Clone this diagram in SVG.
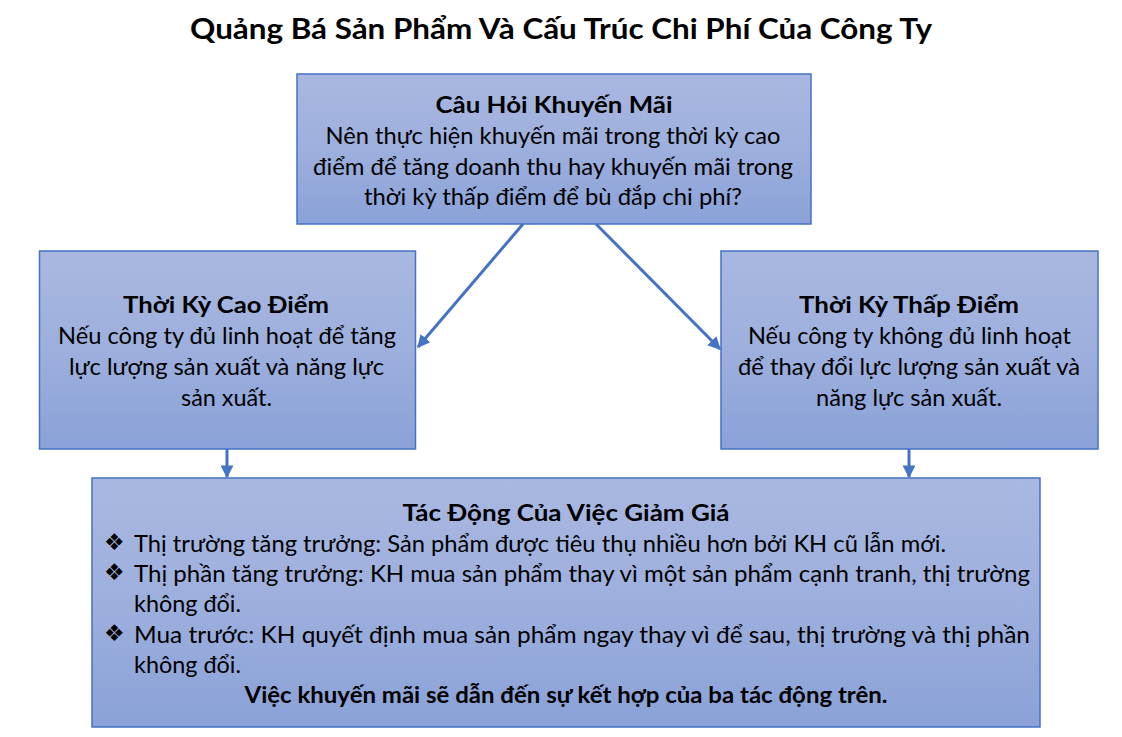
<svg xmlns="http://www.w3.org/2000/svg" width="1122" height="737" viewBox="0 0 1122 737">
  <defs>
    <linearGradient id="boxGrad" x1="0" y1="0" x2="0" y2="1">
      <stop offset="0" stop-color="#A9B8E1"/>
      <stop offset="0.5" stop-color="#9DAFDD"/>
      <stop offset="1" stop-color="#8AA2D8"/>
    </linearGradient>
    <marker id="arrow" viewBox="0 0 10 10" refX="9" refY="5" markerWidth="4.3" markerHeight="4.3" orient="auto">
      <path d="M0,0 L10,5 L0,10 z" fill="#4472C4"/>
    </marker>
    <style>
      .box { fill: url(#boxGrad); stroke: #4472C4; stroke-width: 1.5; }
      .title { font-family: Lato, "Liberation Sans", sans-serif; font-weight: bold; font-size: 28px; fill: #000; text-anchor: middle; }
      .head { font-family: Lato, "Liberation Sans", sans-serif; font-weight: bold; font-size: 23px; fill: #000; text-anchor: middle; }
      .body { font-family: Lato, "Liberation Sans", sans-serif; font-size: 23px; fill: #000; text-anchor: middle; }
      .left { font-family: Lato, "Liberation Sans", sans-serif; font-size: 23px; fill: #000; text-anchor: start; }
      .bullet { font-family: "DejaVu Sans", sans-serif; font-size: 23px; fill: #000; }
      .conn { stroke: #4472C4; stroke-width: 3; fill: none; marker-end: url(#arrow); }
    </style>
  </defs>
  <rect width="1122" height="737" fill="#FFFFFF"/>

  <text class="title" x="561" y="39" textLength="742" lengthAdjust="spacingAndGlyphs">Quảng Bá Sản Phẩm Và Cấu Trúc Chi Phí Của Công Ty</text>

  <g id="connectors">
    <line class="conn" x1="523" y1="224" x2="418" y2="347"/>
    <line class="conn" x1="596" y1="224" x2="720" y2="349"/>
    <line class="conn" x1="227" y1="449" x2="227" y2="477"/>
    <line class="conn" x1="909" y1="449" x2="909" y2="477"/>
  </g>

  <g id="node-question">
    <rect class="box" x="297" y="74" width="514" height="150"/>
    <text class="head" x="554" y="113" textLength="237" lengthAdjust="spacingAndGlyphs">Câu Hỏi Khuyến Mãi</text>
    <text class="body" x="553" y="144" textLength="455" lengthAdjust="spacingAndGlyphs">Nên thực hiện khuyến mãi trong thời kỳ cao</text>
    <text class="body" x="553" y="175" textLength="480" lengthAdjust="spacingAndGlyphs">điểm để tăng doanh thu hay khuyến mãi trong</text>
    <text class="body" x="553" y="205" textLength="378" lengthAdjust="spacingAndGlyphs">thời kỳ thấp điểm để bù đắp chi phí?</text>
  </g>

  <g id="node-peak">
    <rect class="box" x="39.5" y="251" width="376" height="198"/>
    <text class="head" x="226" y="313" textLength="206" lengthAdjust="spacingAndGlyphs">Thời Kỳ Cao Điểm</text>
    <text class="body" x="227" y="344" textLength="338" lengthAdjust="spacingAndGlyphs">Nếu công ty đủ linh hoạt để tăng</text>
    <text class="body" x="226.5" y="375" textLength="315" lengthAdjust="spacingAndGlyphs">lực lượng sản xuất và năng lực</text>
    <text class="body" x="226.5" y="406" textLength="91" lengthAdjust="spacingAndGlyphs">sản xuất.</text>
  </g>

  <g id="node-offpeak">
    <rect class="box" x="721" y="251" width="377" height="198"/>
    <text class="head" x="909" y="313" textLength="220" lengthAdjust="spacingAndGlyphs">Thời Kỳ Thấp Điểm</text>
    <text class="body" x="909.5" y="344" textLength="323" lengthAdjust="spacingAndGlyphs">Nếu công ty không đủ linh hoạt</text>
    <text class="body" x="909" y="375" textLength="342" lengthAdjust="spacingAndGlyphs">để thay đổi lực lượng sản xuất và</text>
    <text class="body" x="909" y="406" textLength="186" lengthAdjust="spacingAndGlyphs">năng lực sản xuất.</text>
  </g>

  <g id="node-impact">
    <rect class="box" x="92" y="478" width="948" height="249"/>
    <text class="head" x="566" y="521" textLength="327" lengthAdjust="spacingAndGlyphs">Tác Động Của Việc Giảm Giá</text>
    <text class="bullet" x="104" y="550">❖</text>
    <text class="left" x="134" y="552" textLength="812" lengthAdjust="spacingAndGlyphs">Thị trường tăng trưởng: Sản phẩm được tiêu thụ nhiều hơn bởi KH cũ lẫn mới.</text>
    <text class="bullet" x="104" y="580">❖</text>
    <text class="left" x="134" y="582" textLength="896" lengthAdjust="spacingAndGlyphs">Thị phần tăng trưởng: KH mua sản phẩm thay vì một sản phẩm cạnh tranh, thị trường</text>
    <text class="left" x="134" y="612" textLength="107" lengthAdjust="spacingAndGlyphs">không đổi.</text>
    <text class="bullet" x="104" y="641">❖</text>
    <text class="left" x="134" y="643" textLength="896" lengthAdjust="spacingAndGlyphs">Mua trước: KH quyết định mua sản phẩm ngay thay vì để sau, thị trường và thị phần</text>
    <text class="left" x="134" y="673" textLength="107" lengthAdjust="spacingAndGlyphs">không đổi.</text>
    <text class="head" x="566" y="703" textLength="643" lengthAdjust="spacingAndGlyphs">Việc khuyến mãi sẽ dẫn đến sự kết hợp của ba tác động trên.</text>
  </g>
</svg>
